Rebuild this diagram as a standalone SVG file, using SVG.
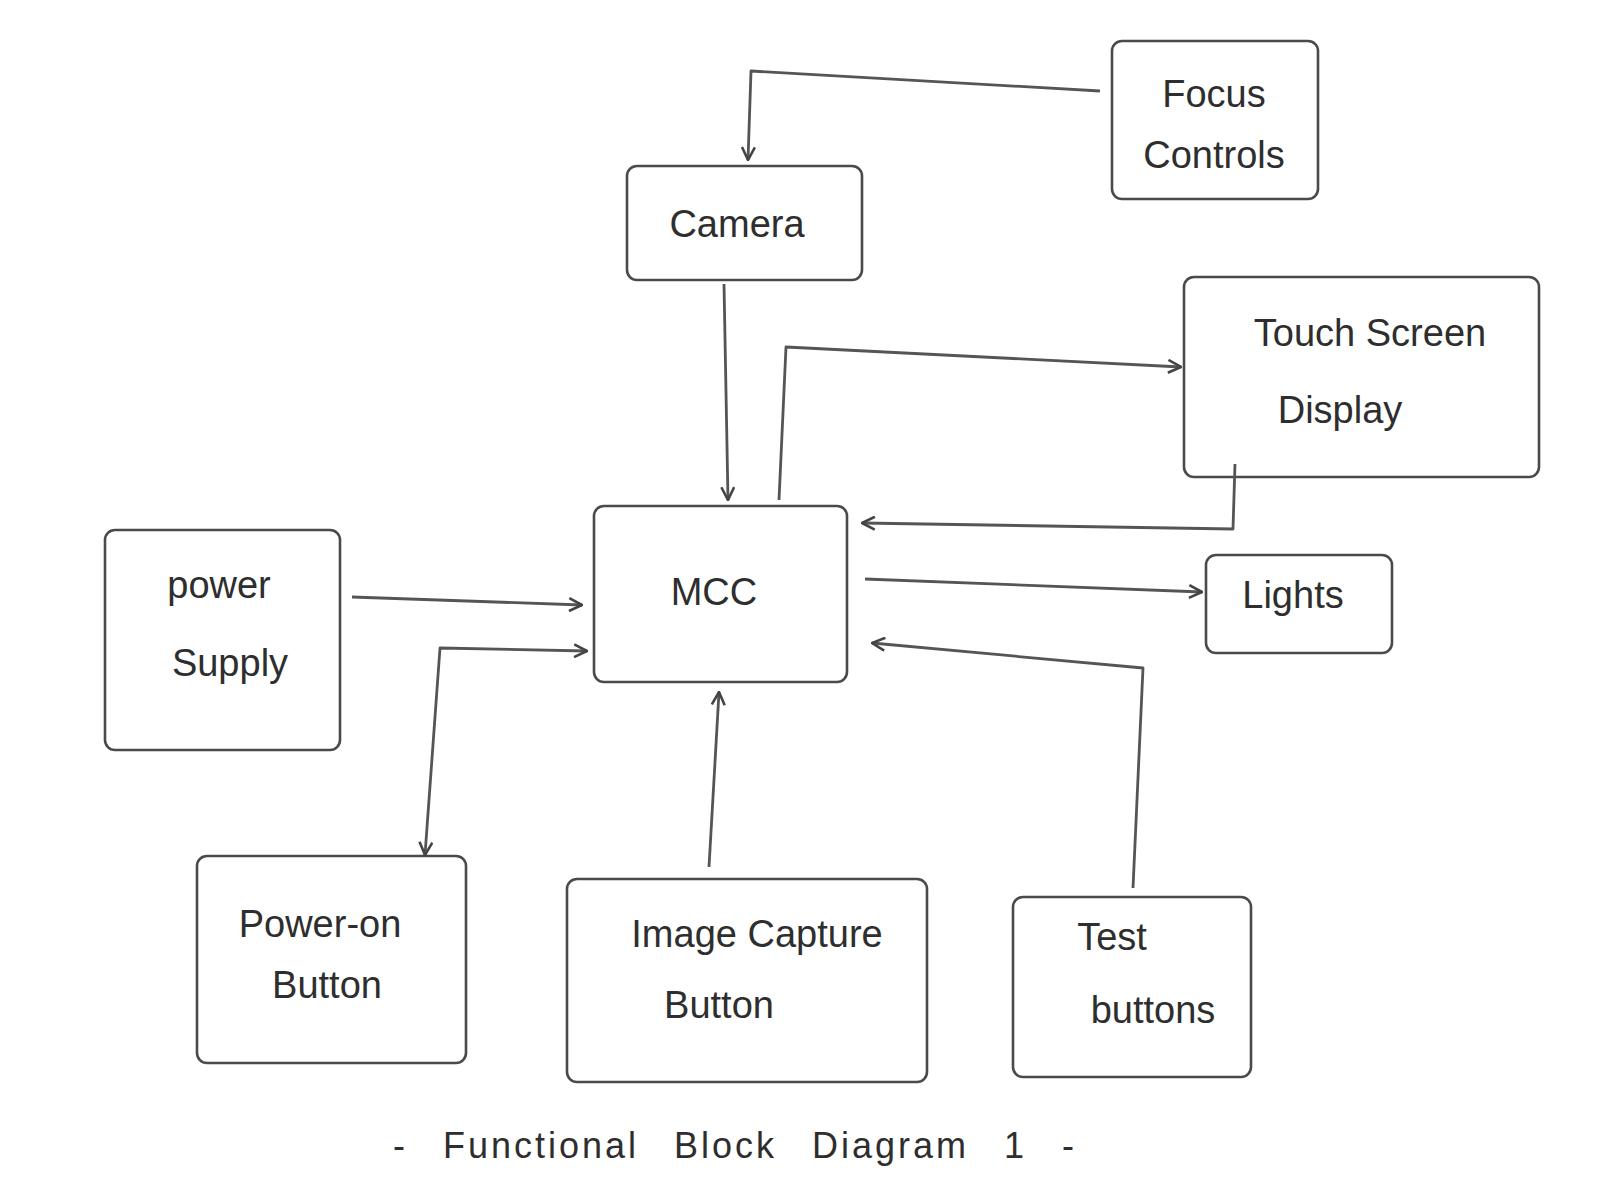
<svg xmlns="http://www.w3.org/2000/svg" width="1600" height="1200" viewBox="0 0 1600 1200">
<defs>
<style>
.box{fill:none;stroke:#4a4a4a;stroke-width:2.6;stroke-linejoin:round}
.lbl{font-family:"Liberation Sans",Arial,sans-serif;font-size:38px;fill:#2e2e2e;text-anchor:middle;dominant-baseline:central}
.cap{font-family:"Liberation Sans",Arial,sans-serif;font-size:36px;fill:#2e2e2e;text-anchor:middle;dominant-baseline:central;letter-spacing:3px;word-spacing:22px}
.con{fill:none;stroke:#555;stroke-width:2.8;stroke-linejoin:round}
</style>
<marker id="arr" viewBox="0 0 14 14" refX="13" refY="7" markerWidth="15" markerHeight="15" markerUnits="userSpaceOnUse" orient="auto-start-reverse">
<path d="M1,1 L13,7 L1,13" fill="none" stroke="#444" stroke-width="2.4"/>
</marker>
</defs>
<rect width="1600" height="1200" fill="#ffffff"/>

<g id="focus-controls">
<rect class="box" x="1112" y="41" width="206" height="158" rx="10"/>
<text class="lbl" x="1214" y="94">Focus</text>
<text class="lbl" x="1214" y="155">Controls</text>
</g>
<g id="camera">
<rect class="box" x="627" y="166" width="235" height="114" rx="10"/>
<text class="lbl" x="737" y="224">Camera</text>
</g>
<g id="touch-screen-display">
<rect class="box" x="1184" y="277" width="355" height="200" rx="10"/>
<text class="lbl" x="1370" y="333">Touch Screen</text>
<text class="lbl" x="1340" y="410">Display</text>
</g>
<g id="mcc">
<rect class="box" x="594" y="506" width="253" height="176" rx="10"/>
<text class="lbl" x="714" y="592">MCC</text>
</g>
<g id="lights">
<rect class="box" x="1206" y="555" width="186" height="98" rx="10"/>
<text class="lbl" x="1293" y="595">Lights</text>
</g>
<g id="power-supply">
<rect class="box" x="105" y="530" width="235" height="220" rx="10"/>
<text class="lbl" x="219" y="585">power</text>
<text class="lbl" x="230" y="663">Supply</text>
</g>
<g id="power-on-button">
<rect class="box" x="197" y="856" width="269" height="207" rx="10"/>
<text class="lbl" x="320" y="924">Power-on</text>
<text class="lbl" x="327" y="985">Button</text>
</g>
<g id="image-capture-button">
<rect class="box" x="567" y="879" width="360" height="203" rx="10"/>
<text class="lbl" x="757" y="934">Image Capture</text>
<text class="lbl" x="719" y="1005">Button</text>
</g>
<g id="test-buttons">
<rect class="box" x="1013" y="897" width="238" height="180" rx="10"/>
<text class="lbl" x="1112" y="937">Test</text>
<text class="lbl" x="1153" y="1010">buttons</text>
</g>

<g id="connectors">
<path class="con" d="M1100,91 L751,71 L748,160" marker-end="url(#arr)"/>
<path class="con" d="M724,284 L728,500" marker-end="url(#arr)"/>
<path class="con" d="M779,500 L786,347 L1181,367" marker-end="url(#arr)"/>
<path class="con" d="M1235,464 L1233,529 L862,523" marker-end="url(#arr)"/>
<path class="con" d="M865,579 L1202,592" marker-end="url(#arr)"/>
<path class="con" d="M352,597 L582,605" marker-end="url(#arr)"/>
<path class="con" d="M587,651 L440,648 L425,855" marker-start="url(#arr)" marker-end="url(#arr)"/>
<path class="con" d="M709,867 L719,692" marker-end="url(#arr)"/>
<path class="con" d="M1133,888 L1143,668 L872,643" marker-end="url(#arr)"/>
</g>

<text class="cap" x="735" y="1145">- Functional Block Diagram 1 -</text>
</svg>
